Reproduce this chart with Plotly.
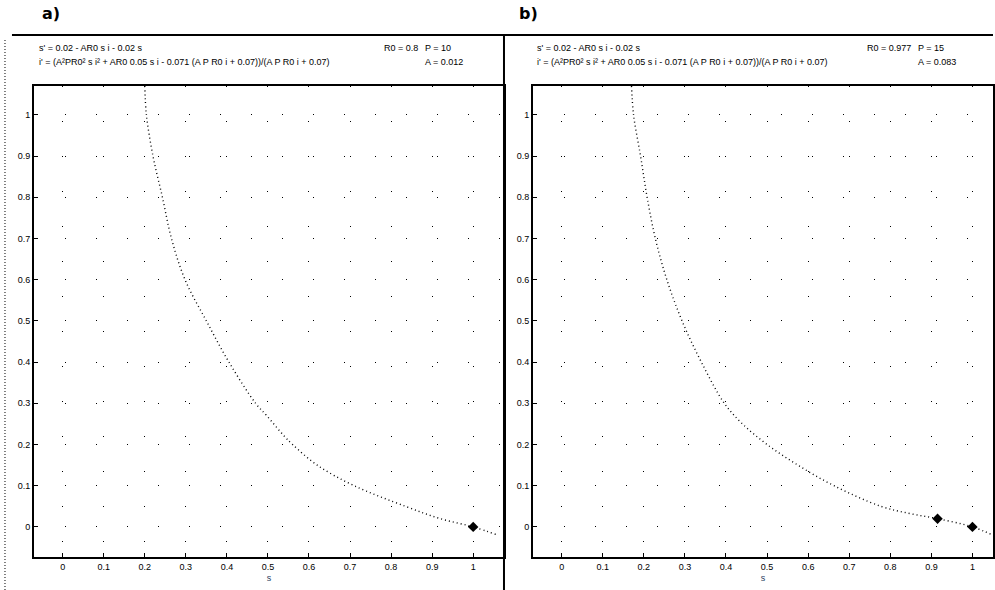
import plotly.graph_objects as go

# ---- data ----
curve_a_s = [0.20, 0.204, 0.22, 0.243, 0.265, 0.298, 0.35, 0.405, 0.47, 0.497, 0.54, 0.56, 0.62, 0.71, 0.835, 0.92, 1.0, 1.06]
curve_a_i = [1.07, 1.0, 0.9, 0.8, 0.7, 0.6, 0.5, 0.4, 0.3, 0.27, 0.22, 0.2, 0.15, 0.1, 0.05, 0.02, 0.0, -0.02]
curve_b_s = [0.17, 0.175, 0.192, 0.208, 0.228, 0.256, 0.293, 0.34, 0.396, 0.44, 0.5, 0.575, 0.663, 0.777, 0.85, 0.915, 1.0, 1.05]
curve_b_i = [1.07, 1.0, 0.9, 0.8, 0.7, 0.6, 0.5, 0.4, 0.3, 0.25, 0.2, 0.15, 0.1, 0.05, 0.032, 0.02, 0.0, -0.02]
eq_a_s = [1.0]
eq_a_i = [0.0]
eq_b_s = [0.915, 1.0]
eq_b_i = [0.02, 0.0]
xticks = [0, 0.1, 0.2, 0.3, 0.4, 0.5, 0.6, 0.7, 0.8, 0.9, 1]
yticks = [0, 0.1, 0.2, 0.3, 0.4, 0.5, 0.6, 0.7, 0.8, 0.9, 1]
eq1 = "s' = 0.02 - AR0 s i - 0.02 s"
eq2 = "i' = (A²PR0² s i² + AR0 0.05 s i - 0.071 (A P R0 i + 0.07))/(A P R0 i + 0.07)"
params_a = ["R0 = 0.8", "P = 10", "A = 0.012"]
params_b = ["R0 = 0.977", "P = 15", "A = 0.083"]

W, H = 995, 590
fig = go.Figure()

def curve(xs, ys, ax):
    fig.add_trace(go.Scatter(x=xs, y=ys, mode="lines", xaxis="x" + ax, yaxis="y" + ax,
                             line=dict(color="black", width=1.4, dash="1px,3px", shape="spline", smoothing=1.0),
                             showlegend=False, hoverinfo="skip"))

def eqm(xs, ys, ax):
    fig.add_trace(go.Scatter(x=xs, y=ys, mode="markers", xaxis="x" + ax, yaxis="y" + ax,
                             marker=dict(color="black", size=8, symbol="diamond"),
                             showlegend=False))

curve(curve_a_s, curve_a_i, "")
eqm(eq_a_s, eq_a_i, "")
curve(curve_b_s, curve_b_i, "2")
eqm(eq_b_s, eq_b_i, "2")

tickfont = dict(family="Liberation Sans", size=9, color="black")
common_x = dict(tickmode="array", tickvals=xticks, ticks="inside", ticklen=4, tickcolor="black",
                showline=True, linecolor="black", linewidth=1.5, tickfont=tickfont,
                showgrid=True, gridcolor="black", gridwidth=1, griddash="1px,34px",
                zeroline=False, title=dict(text="s", font=dict(size=9, family="Liberation Sans"), standoff=4))
common_y = dict(tickmode="array", tickvals=yticks, ticks="inside", ticklen=4, tickcolor="black",
                showline=True, linecolor="black", linewidth=1.5, tickfont=tickfont,
                showgrid=True, gridcolor="black", gridwidth=1, griddash="1px,30px",
                zeroline=False, range=[-0.073, 1.07])

ybot = 1 - 557 / H
ytop = 1 - 86 / H
fig.update_layout(
    width=W, height=H, margin=dict(l=0, r=0, t=0, b=0),
    paper_bgcolor="white", plot_bgcolor="white",
    xaxis=dict(common_x, domain=[34 / W, 505 / W], range=[-0.07, 1.075], mirror=True, anchor="y"),
    yaxis=dict(common_y, domain=[ybot, ytop], mirror=True, anchor="x"),
    xaxis2=dict(common_x, domain=[534 / W, 1.0], range=[-0.07, 1.05], mirror=True, anchor="y2"),
    yaxis2=dict(common_y, domain=[ybot, ytop], mirror=True, anchor="x2"),
)

# frame lines of the scanned figure
fig.add_shape(type="line", xref="paper", yref="paper", x0=12 / W, x1=1, y0=1 - 35 / H, y1=1 - 35 / H,
              line=dict(color="black", width=2))
fig.add_shape(type="line", xref="paper", yref="paper", x0=505 / W, x1=505 / W, y0=0, y1=1 - 35 / H,
              line=dict(color="black", width=2))
fig.add_shape(type="line", xref="paper", yref="paper", x0=5 / W, x1=5 / W, y0=0, y1=1 - 38 / H,
              line=dict(color="black", width=1, dash="1px,2px"))

txt = dict(family="Liberation Sans", size=9, color="black")
for lab, x0 in [("a)", 40), ("b)", 518)]:
    fig.add_annotation(text="<b>" + lab + "</b>", x=x0 / W, y=1 - 14 / H, xref="paper", yref="paper",
                       xanchor="left", yanchor="middle", showarrow=False,
                       font=dict(family="DejaVu Sans", size=16, color="black"))

for x0, params, xp, dp in [(37, params_a, 383, 41), (536, params_b, 867, 51)]:
    fig.add_annotation(text=eq1, x=x0 / W, y=1 - 48 / H, xref="paper", yref="paper",
                       xanchor="left", yanchor="middle", showarrow=False, font=txt)
    fig.add_annotation(text=eq2, x=x0 / W, y=1 - 62 / H, xref="paper", yref="paper",
                       xanchor="left", yanchor="middle", showarrow=False, font=txt)
    fig.add_annotation(text=params[0], x=xp / W, y=1 - 48 / H, xref="paper", yref="paper",
                       xanchor="left", yanchor="middle", showarrow=False, font=txt)
    fig.add_annotation(text=params[1], x=(xp + dp) / W, y=1 - 48 / H, xref="paper", yref="paper",
                       xanchor="left", yanchor="middle", showarrow=False, font=txt)
    fig.add_annotation(text=params[2], x=(xp + dp) / W, y=1 - 62 / H, xref="paper", yref="paper",
                       xanchor="left", yanchor="middle", showarrow=False, font=txt)

fig.write_html("out.html")
